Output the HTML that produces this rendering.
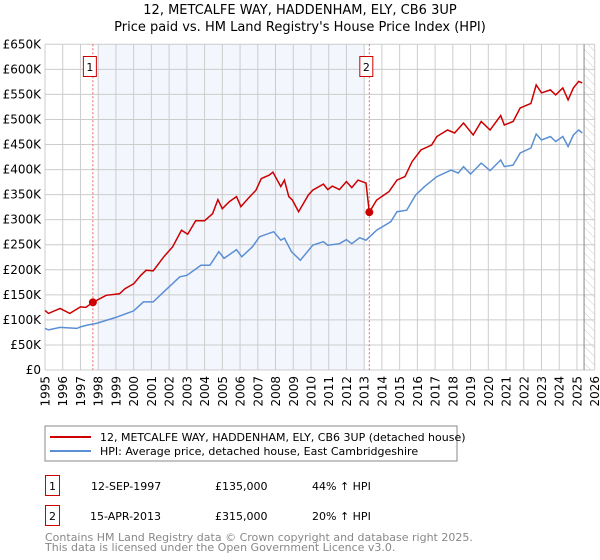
<!DOCTYPE html>
<html><head><meta charset="utf-8"><style>
body{margin:0;background:#fff;}
svg{display:block;font-family:"DejaVu Sans","Liberation Sans",sans-serif;}
</style></head><body>
<svg id="chart" width="600" height="560" viewBox="0 0 600 560" xmlns="http://www.w3.org/2000/svg">
<defs><pattern id="hatch" width="6" height="6" patternUnits="userSpaceOnUse" patternTransform="rotate(-45)"><line x1="0" y1="0" x2="0" y2="6" stroke="#ccc" stroke-width="1"/></pattern></defs>
<text x="300" y="14" text-anchor="middle" font-size="13">12, METCALFE WAY, HADDENHAM, ELY, CB6 3UP</text>
<text x="300" y="31" text-anchor="middle" font-size="13">Price paid vs. HM Land Registry's House Price Index (HPI)</text>
<g id="plot"></g>
<rect x="45" y="426" width="412" height="35" fill="#fff" stroke="#888"/>
<line x1="50" y1="437" x2="91" y2="437" stroke="#cc0000" stroke-width="2"/>
<text x="100" y="441" font-size="11">12, METCALFE WAY, HADDENHAM, ELY, CB6 3UP (detached house)</text>
<line x1="50" y1="451" x2="91" y2="451" stroke="#5b8fd4" stroke-width="2"/>
<text x="100" y="455" font-size="11">HPI: Average price, detached house, East Cambridgeshire</text>
<g>
<rect x="45.5" y="475.5" width="14" height="20" fill="#fff" stroke="#cc0000"/>
<text x="52.5" y="490" text-anchor="middle" font-size="11">1</text>
<text x="91" y="490" font-size="11">12-SEP-1997</text>
<text x="215" y="490" font-size="11">£135,000</text>
<text x="312" y="490" font-size="11">44% ↑ HPI</text>
</g>
<g>
<rect x="45.5" y="505.5" width="14" height="20" fill="#fff" stroke="#cc0000"/>
<text x="52.5" y="520" text-anchor="middle" font-size="11">2</text>
<text x="90" y="520" font-size="11">15-APR-2013</text>
<text x="215" y="520" font-size="11">£315,000</text>
<text x="312" y="520" font-size="11">20% ↑ HPI</text>
</g>
<text x="45" y="541" font-size="11" fill="#888">Contains HM Land Registry data © Crown copyright and database right 2025.</text>
<text x="45" y="551" font-size="11" fill="#888">This data is licensed under the Open Government Licence v3.0.</text>
</svg>
<script>
const yTicks=[0,50,100,150,200,250,300,350,400,450,500,550,600,650];
const yTickLabels=["£0","£50K","£100K","£150K","£200K","£250K","£300K","£350K","£400K","£450K","£500K","£550K","£600K","£650K"];
const xYears=[1995,1996,1997,1998,1999,2000,2001,2002,2003,2004,2005,2006,2007,2008,2009,2010,2011,2012,2013,2014,2015,2016,2017,2018,2019,2020,2021,2022,2023,2024,2025,2026];
const hpiYears=[1995,1995.2,1995.85,1996.8,1997,1997.44,1997.9,1999,2000,2000.55,2001.1,2001.7,2002.6,2003,2003.8,2004.3,2004.8,2005.1,2005.8,2006.1,2006.7,2007.1,2007.9,2008.3,2008.5,2008.9,2009.4,2010.1,2010.7,2010.95,2011.6,2012,2012.3,2012.75,2013.1,2013.7,2014.5,2014.85,2015.4,2015.9,2016.4,2017.1,2017.9,2018.3,2018.6,2019,2019.6,2020.1,2020.7,2020.9,2021.4,2021.8,2022.4,2022.7,2023,2023.5,2023.8,2024.2,2024.5,2024.8,2025.1,2025.3];
const hpiValues=[83,80,85,83,86,90,93,105,118,136,136,156,186,189,209,209,236,223,240,226,246,266,276,259,263,236,219,249,256,249,252,260,252,264,259,279,296,316,319,349,366,386,399,393,406,391,413,398,419,406,409,433,443,471,459,466,456,466,446,469,479,473];
const priceYears=[1995,1995.2,1995.85,1996.4,1997,1997.3,1997.7,1998.45,1999.2,1999.5,2000,2000.4,2000.7,2001.1,2001.7,2002.2,2002.7,2003.05,2003.5,2004,2004.45,2004.75,2005,2005.4,2005.8,2006.05,2006.45,2006.9,2007.2,2007.65,2007.85,2008.3,2008.5,2008.75,2008.95,2009.3,2009.85,2010.1,2010.7,2010.95,2011.2,2011.6,2012,2012.3,2012.65,2013.1,2013.29,2013.7,2014.4,2014.85,2015.3,2015.7,2016.2,2016.8,2017.1,2017.7,2018.1,2018.6,2019.15,2019.6,2020.1,2020.7,2020.9,2021.4,2021.8,2022.4,2022.7,2023,2023.5,2023.8,2024.2,2024.5,2024.8,2025.1,2025.3];
const priceValues=[119,113,123,113,126,125,135,149,152,162,172,189,199,198,226,246,279,271,298,298,312,340,322,336,346,326,342,359,382,389,395,366,379,346,339,316,349,359,371,360,367,360,376,364,379,373,315,339,356,379,386,416,439,449,466,479,473,493,469,496,479,508,489,496,523,532,569,553,559,549,563,539,563,576,573];
const saleYears=[1997.7,2013.29];
const saleValues=[135,315];
const saleLabels=["1","2"];
const shadeRange=[1998,2013];
const futureStart=2025.4;

const X0=45,X1=594.7,Y0=370,Y1=44.3;
const xs=y=>X0+(y-1995)/(2026-1995)*(X1-X0);
const ys=v=>Y0-v/650*(Y0-Y1);
const NS="http://www.w3.org/2000/svg";
const g=document.getElementById('plot');
function mk(tag,attrs){const e=document.createElementNS(NS,tag);for(const k in attrs)e.setAttribute(k,attrs[k]);g.appendChild(e);return e;}

let r=mk('rect',{x:xs(shadeRange[0]),y:Y1,width:xs(shadeRange[1])-xs(shadeRange[0]),height:Y0-Y1,fill:'#eef2fc',opacity:0.7});


r=mk('rect',{x:xs(futureStart),y:Y1,width:X1-xs(futureStart),height:Y0-Y1,fill:'url(#hatch)'});



yTicks.forEach((t,i)=>{
  const l=mk('line',{x1:X0,x2:X1,y1:ys(t),y2:ys(t),stroke:'#ccc','stroke-width':1});
  
  
  const tx=mk('text',{x:X0-4,y:ys(t)+4,'text-anchor':'end','font-size':12});
  tx.textContent=yTickLabels[i];
  
  
});
xYears.forEach(yr=>{
  const l=mk('line',{x1:xs(yr),x2:xs(yr),y1:Y1,y2:Y0,stroke:'#ccc','stroke-width':1});
  
  
  const tx=mk('text',{x:0,y:0,'text-anchor':'end','font-size':12,transform:`translate(${xs(yr)+4.5},${Y0+6}) rotate(-90)`});
  tx.textContent=yr;
  
  
});
let fl=mk('line',{x1:xs(futureStart),x2:xs(futureStart),y1:Y1,y2:Y0,stroke:'#888','stroke-width':1});



saleYears.forEach((yr,i)=>{
  const l=mk('line',{x1:xs(yr),x2:xs(yr),y1:Y1,y2:Y0,stroke:'#ee6666','stroke-width':1,'stroke-dasharray':'2,2'});
  
  
  const b=mk('rect',{x:xs(yr)-9.5,y:56.5,width:13,height:20,fill:'#fff',stroke:'#cc0000'});
  
  
  const t=mk('text',{x:xs(yr)-3,y:71,'text-anchor':'middle','font-size':11});
  t.textContent=saleLabels[i];
  
  
});

let p=mk('path',{d:hpiYears.map((y,i)=>(i?'L':'M')+xs(y).toFixed(1)+','+ys(hpiValues[i]).toFixed(1)).join(''),fill:'none',stroke:'#5b8fd4','stroke-width':1.5});


p=mk('path',{d:priceYears.map((y,i)=>(i?'L':'M')+xs(y).toFixed(1)+','+ys(priceValues[i]).toFixed(1)).join(''),fill:'none',stroke:'#cc0000','stroke-width':1.5});


saleYears.forEach((yr,i)=>{
  const c=mk('circle',{cx:xs(yr),cy:ys(saleValues[i]),r:4,fill:'#cc0000'});
  
  
});
</script>
</body></html>
